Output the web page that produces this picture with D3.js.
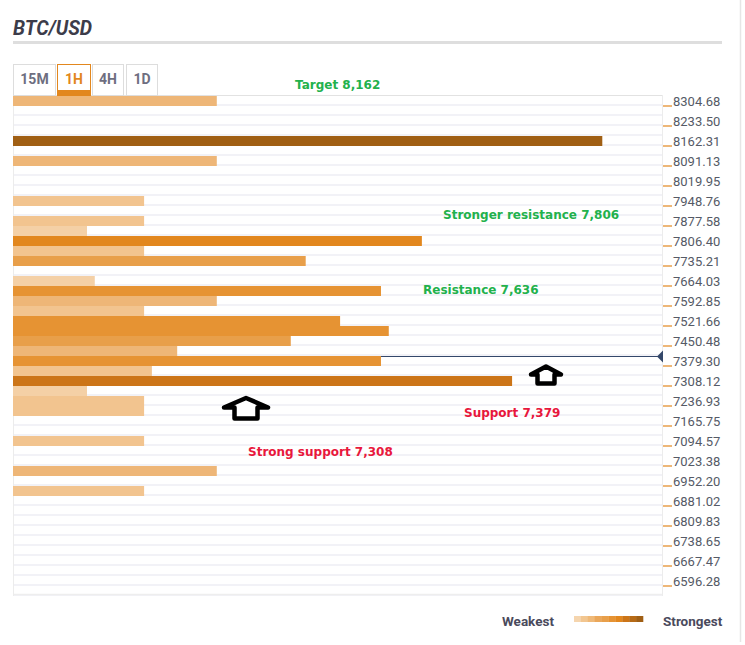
<!DOCTYPE html>
<html><head><meta charset="utf-8">
<script src="https://cdn.jsdelivr.net/npm/d3@7"></script>
<style>
html,body{margin:0;padding:0;background:#fff;}
svg{display:block;}
</style></head>
<body>
<svg id="chart" width="745" height="645"></svg>
<script>
// ---------- DATA ----------
const title = "BTC/USD";
const timeframes = ["15M", "1H", "4H", "1D"];
const activeTimeframe = "1H";
const tickLabels = [8304.68, 8233.50, 8162.31, 8091.13, 8019.95, 7948.76, 7877.58, 7806.40, 7735.21,
  7664.03, 7592.85, 7521.66, 7450.48, 7379.30, 7308.12, 7236.93, 7165.75, 7094.57, 7023.38,
  6952.20, 6881.02, 6809.83, 6738.65, 6667.47, 6596.28];
const barPrices = [8304.68, 8162.31, 8091.13, 7948.76, 7877.58, 7841.99, 7806.40, 7770.81, 7735.21,
  7664.03, 7628.44, 7592.85, 7557.26, 7521.66, 7486.07, 7450.48, 7414.89, 7379.30, 7343.71,
  7308.12, 7272.53, 7236.93, 7201.34, 7094.57, 6987.79, 6916.61];
const barStrength = [31.4, 90.8, 31.4, 20.2, 20.2, 11.4, 63.0, 20.2, 45.1,
  12.6, 56.7, 31.4, 20.2, 50.4, 57.9, 42.8, 25.3, 56.7, 21.4,
  76.9, 11.4, 20.2, 20.2, 20.2, 31.4, 20.2];
const currentPrice = 7397.1;
const annotationTexts = ["Target 8,162", "Stronger resistance 7,806", "Resistance 7,636", "Support 7,379", "Strong support 7,308"];
const annotationKinds = ["up", "up", "up", "down", "down"];
const legendLabels = ["Weakest", "Strongest"];

// ---------- LAYOUT ----------
const svg = d3.select("#chart");
const plot = {left: 13, right: 662, top: 96, bottom: 596};
const rowH = 10;

const y = d3.scaleLinear()
  .domain([tickLabels[0], tickLabels[tickLabels.length - 1]])
  .range([plot.top + rowH / 2, plot.top + rowH / 2 + (tickLabels.length - 1) * 2 * rowH]);
const x = d3.scaleLinear().domain([0, 100]).range([plot.left, plot.left + 649]);

const barColors = ["#f4d0a6", "#f2c48f", "#eeb677", "#e89f4a", "#e69333", "#e2871e", "#cc7518", "#a05f14"];
const color = d3.scaleThreshold().domain([15, 24, 38, 48, 60, 70, 85]).range(barColors);
const legendColors = ["#f5d5ae", "#f2c690", "#efb978", "#eaa75a", "#e89f4a", "#e69333", "#e2871e", "#cc7518", "#b66a16", "#a05f14"];

// widget right border
svg.append("line").attr("x1", 740.5).attr("x2", 740.5).attr("y1", 0).attr("y2", 642)
  .attr("stroke", "#e6e6e6").attr("stroke-width", 1.5);

// Title
svg.append("text").attr("x", 13).attr("y", 35).text(title)
  .attr("font-family", "Roboto").attr("font-weight", 700).attr("font-style", "italic")
  .attr("font-size", 19.5).attr("fill", "#3c3c4a");
svg.append("rect").attr("x", 13).attr("y", 41).attr("width", 709).attr("height", 3).attr("fill", "#dedede");

// Row stripes
const nRows = Math.round((plot.bottom - plot.top) / rowH);
const rows = d3.range(nRows);
svg.append("g").selectAll("rect").data(rows).join("rect")
  .attr("x", plot.left).attr("width", plot.right - plot.left)
  .attr("y", i => plot.top + i * rowH + rowH - 2).attr("height", 2)
  .attr("fill", "#f2f2f7");

// Plot frame
svg.append("line").attr("x1", plot.left).attr("x2", plot.right).attr("y1", 95.5).attr("y2", 95.5)
  .attr("stroke", "#e2e2e2");
svg.append("line").attr("x1", plot.left).attr("x2", plot.right).attr("y1", plot.bottom - 1.5).attr("y2", plot.bottom - 1.5)
  .attr("stroke", "#eeeeee").attr("stroke-width", 1.5);
svg.append("line").attr("x1", plot.left + 0.5).attr("x2", plot.left + 0.5).attr("y1", 95).attr("y2", plot.bottom)
  .attr("stroke", "#ececec");
svg.append("line").attr("x1", plot.right + 0.5).attr("x2", plot.right + 0.5).attr("y1", 95).attr("y2", plot.bottom)
  .attr("stroke", "#ececec");

// Current price line
const cy = Math.round(y(currentPrice)) + 0.5;
svg.append("line").attr("x1", plot.left).attr("x2", plot.right - 4).attr("y1", cy).attr("y2", cy)
  .attr("stroke", "#34486a").attr("stroke-width", 1.2);
svg.append("path").attr("d", `M${plot.right - 5},${cy} L${plot.right + 1},${cy - 6} L${plot.right + 1},${cy + 6} Z`)
  .attr("fill", "#34486a");

// Bars
const bars = barPrices.map((p, i) => ({price: p, v: barStrength[i]}));
svg.append("g").selectAll("rect").data(bars).join("rect")
  .attr("x", x(0))
  .attr("y", d => y(d.price) - rowH / 2)
  .attr("width", d => x(d.v) - x(0))
  .attr("height", rowH)
  .attr("fill", d => color(d.v));

// Axis (right)
const axis = d3.axisRight(y).tickValues(tickLabels).tickFormat(d3.format(".2f")).tickSize(0).tickPadding(0);
const gAxis = svg.append("g").attr("transform", `translate(${plot.right + 11},0)`).call(axis);
gAxis.select(".domain").remove();
gAxis.selectAll("text").attr("font-family", "Roboto").attr("font-size", 13).attr("fill", "#555a66")
  .attr("dy", "0.36em");
gAxis.selectAll(".tick").append("line").attr("x1", -10).attr("x2", -1).attr("y1", 4.5).attr("y2", 4.5)
  .attr("stroke", "#e2871e").attr("stroke-width", 1.2);

// Tabs
const tabLayout = [{x: 13, w: 42}, {x: 57, w: 33}, {x: 92, w: 31}, {x: 126, w: 31}];
const gTabs = svg.append("g");
timeframes.forEach((t, i) => {
  const L = tabLayout[i];
  const active = t === activeTimeframe;
  gTabs.append("rect").attr("x", L.x + 0.5).attr("y", 64.5).attr("width", L.w).attr("height", 31)
    .attr("fill", "#fff").attr("stroke", active ? "#e2871e" : "#dddddd").attr("stroke-width", 1);
  if (active) gTabs.append("rect").attr("x", L.x).attr("y", 90).attr("width", L.w + 1).attr("height", 6).attr("fill", "#e2871e");
  gTabs.append("text").attr("x", L.x + L.w / 2 + 0.5).attr("y", 84).attr("text-anchor", "middle").text(t)
    .attr("font-family", "Roboto").attr("font-weight", 700).attr("font-size", 14)
    .attr("fill", active ? "#e2871e" : "#6e6e80");
});

// Annotations
const annLayout = [{x: 295, y: 89}, {x: 443, y: 219}, {x: 423, y: 294}, {x: 464, y: 417}, {x: 248, y: 456}];
svg.append("g").selectAll("text").data(annotationTexts).join("text")
  .attr("x", (d, i) => annLayout[i].x).attr("y", (d, i) => annLayout[i].y)
  .text(d => d)
  .attr("font-family", "'DejaVu Sans', sans-serif").attr("font-weight", 700).attr("font-size", 12)
  .attr("fill", (d, i) => annotationKinds[i] === "up" ? "#22b14c" : "#e8173c");

// Arrows
const arrowPaths = [
  "M246,398 L268,407.5 L257.5,407.5 L257.5,418.5 L234.5,418.5 L234.5,407.5 L224,407.5 Z",
  "M546,366.5 L561,374.5 L554.5,374.5 L554.5,383.5 L537.5,383.5 L537.5,374.5 L531,374.5 Z"
];
svg.append("g").selectAll("path").data(arrowPaths).join("path")
  .attr("d", d => d).attr("fill", "#fff").attr("stroke", "#000").attr("stroke-width", 4.5)
  .attr("stroke-linejoin", "round");

// Legend
svg.append("text").attr("x", 554).attr("y", 626).attr("text-anchor", "end").text(legendLabels[0])
  .attr("font-family", "Roboto").attr("font-weight", 700).attr("font-size", 13.5).attr("fill", "#4a4a5c");
svg.append("text").attr("x", 663).attr("y", 626).text(legendLabels[1])
  .attr("font-family", "Roboto").attr("font-weight", 700).attr("font-size", 13.5).attr("fill", "#4a4a5c");
const lx = d3.scaleBand().domain(d3.range(legendColors.length)).range([574, 643]);
svg.append("g").selectAll("rect").data(legendColors).join("rect")
  .attr("x", (d, i) => lx(i)).attr("y", 616).attr("width", lx.bandwidth() + 0.3).attr("height", 6)
  .attr("fill", d => d);
</script>
</body></html>
